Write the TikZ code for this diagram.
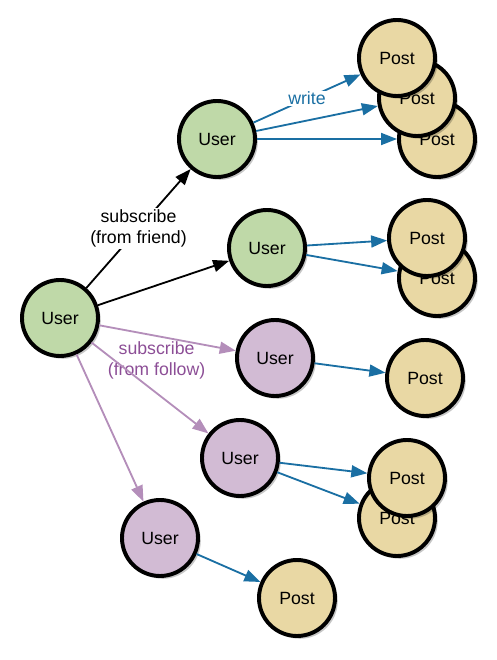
\documentclass[tikz,border=0pt]{standalone}
\usepackage{fontspec}
\setmainfont{Liberation Sans}
\usepackage{tikz}
\usetikzlibrary{shapes.geometric, arrows.meta, shadows}
\definecolor{usergreen}{HTML}{BFD9A8}
\definecolor{userpurple}{HTML}{D2BBD4}
\definecolor{postyellow}{HTML}{E9D8A4}
\definecolor{writeblue}{HTML}{1A6FA3}
\definecolor{followpurple}{HTML}{B48EBA}
\definecolor{followtext}{HTML}{8C4E96}
\tikzstyle{node} = [circle, minimum size=1.9cm, inner sep=0pt, line width=2.8pt, draw=black, text centered, drop shadow={shadow xshift=0.07cm, shadow yshift=-0.07cm, opacity=0.22, fill=black}]
\tikzstyle{friend} = [node, fill=usergreen]
\tikzstyle{follow} = [node, fill=userpurple]
\tikzstyle{post} = [node, fill=postyellow]
\tikzstyle{arrow} = [line width=1.3pt, -{Triangle[length=0.4cm, width=0.3cm]}]
\tikzstyle{subarrow} = [arrow, draw=black]
\tikzstyle{folarrow} = [arrow, draw=followpurple, -{Triangle[length=0.4cm, width=0.3cm, fill=followpurple]}]
\tikzstyle{wrarrow} = [arrow, draw=writeblue, -{Triangle[length=0.4cm, width=0.3cm, fill=writeblue]}]
\begin{document}
\begin{tikzpicture}[node distance=2cm, font=\fontsize{12.6}{15}\selectfont]
\useasboundingbox (-1.5,-8.55) rectangle (10.925,7.95);
\node (root) [friend] {User};
\node (usr1) [friend, right of=root, xshift=1.925cm, yshift=4.475cm] {User};
\node (usr2) [friend, right of=root, xshift=3.175cm, yshift=1.75cm] {User};
\node (usr3) [follow, right of=root, xshift=3.375cm, yshift=-1cm] {User};
\node (usr4) [follow, right of=root, xshift=2.5cm, yshift=-3.5cm] {User};
\node (usr5) [follow, right of=root, xshift=0.5cm, yshift=-5.5cm] {User};
% posts, back to front
\node (post1c) [post, right of=usr1, xshift=3.5cm] {Post};
\node (post1b) [post, right of=usr1, xshift=3cm, yshift=1.025cm] {Post};
\node (post1a) [post, right of=usr1, xshift=2.5cm, yshift=2.025cm] {Post};
\node (post2b) [post, right of=usr2, xshift=2.25cm, yshift=-0.75cm] {Post};
\node (post2a) [post, right of=usr2, xshift=2cm, yshift=0.25cm] {Post};
\node (post3) [post, right of=usr3, xshift=1.75cm, yshift=-0.5cm] {Post};
\node (post4b) [post, right of=usr4, xshift=1.925cm, yshift=-1.5cm] {Post};
\node (post4a) [post, right of=usr4, xshift=2.175cm, yshift=-0.5cm] {Post};
\node (post5) [post, right of=usr5, xshift=1.425cm, yshift=-1.5cm] {Post};
\draw [subarrow] (root) -- node[fill=white, align=center, inner sep=1pt] {subscribe\\(from friend)} (usr1);
\draw [subarrow] (root) -- (usr2);
\draw [folarrow] (root) -- node[below, pos=0.42, align=center, text=followtext] {subscribe\\(from follow)} (usr3);
\draw [folarrow] (root) -- (usr4);
\draw [folarrow] (root) -- (usr5);
\draw [wrarrow] (usr1) -- node[fill=white, text=writeblue, inner sep=1pt] {write} (post1a);
\draw [wrarrow] (usr1) -- (post1b);
\draw [wrarrow] (usr1) -- (post1c);
\draw [wrarrow] (usr2) -- (post2a);
\draw [wrarrow] (usr2) -- (post2b);
\draw [wrarrow] (usr3) -- (post3);
\draw [wrarrow] (usr4) -- (post4a);
\draw [wrarrow] (usr4) -- (post4b);
\draw [wrarrow] (usr5) -- (post5);
\end{tikzpicture}
\end{document}
